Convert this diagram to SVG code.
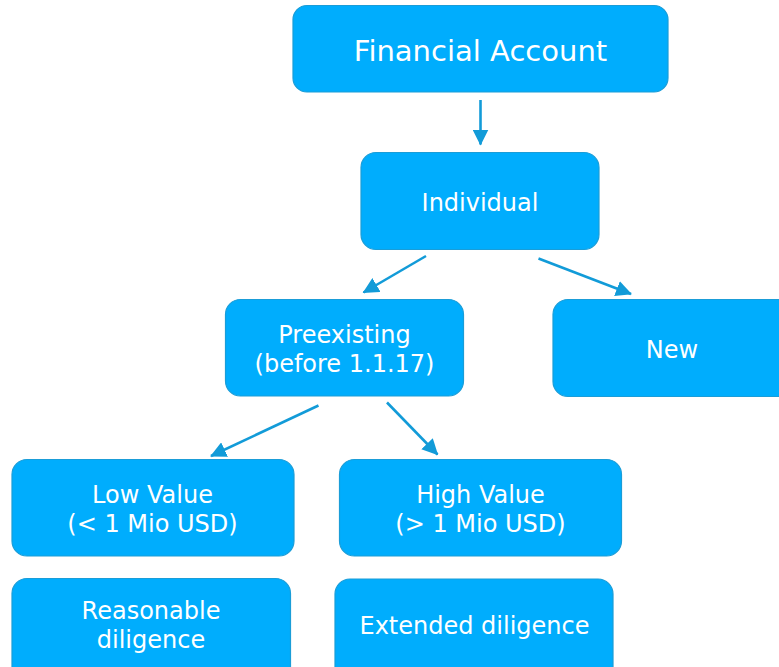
<svg xmlns="http://www.w3.org/2000/svg" width="779" height="667" viewBox="0 0 779 667">
  <defs>
    <style>
      .box { fill: #00adfd; stroke: #1a9dd8; stroke-width: 1.2; }
      .lbl { fill: #ffffff; font-family: "DejaVu Sans", Verdana, sans-serif; font-size: 24px; text-anchor: middle; }
      .big { font-size: 29px; }
      .edge { stroke: #129bd8; stroke-width: 2.6; fill: none; marker-end: url(#head); }
    </style>
    <marker id="head" markerUnits="userSpaceOnUse" markerWidth="16" markerHeight="16" viewBox="0 0 16 16" refX="15" refY="8" orient="auto">
      <path d="M0,0 L16,8 L0,16 Z" fill="#129bd8"/>
    </marker>
  </defs>
  <rect width="779" height="667" fill="#ffffff"/>

  <g id="connectors">
    <line class="edge" x1="480.5" y1="100" x2="480.5" y2="144.5"/>
    <line class="edge" x1="426" y1="256" x2="363.5" y2="292.5"/>
    <line class="edge" x1="538.5" y1="258.5" x2="631" y2="294"/>
    <line class="edge" x1="318.5" y1="405.5" x2="211" y2="456"/>
    <line class="edge" x1="387" y1="402.5" x2="437.5" y2="454.5"/>
  </g>

  <g id="financial-account">
    <rect class="box" x="293" y="5.5" width="375" height="86.5" rx="14"/>
    <text class="lbl big" x="480.5" y="60.5">Financial Account</text>
  </g>

  <g id="individual">
    <rect class="box" x="361" y="152.5" width="238" height="97" rx="15"/>
    <text class="lbl" x="480" y="211">Individual</text>
  </g>

  <g id="preexisting">
    <rect class="box" x="225.5" y="299.5" width="238" height="96.5" rx="15"/>
    <text class="lbl" x="344.5" y="343">Preexisting</text>
    <text class="lbl" x="344.5" y="372">(before 1.1.17)</text>
  </g>

  <g id="new">
    <rect class="box" x="553" y="299.5" width="240" height="97" rx="15"/>
    <text class="lbl" x="672" y="358">New</text>
  </g>

  <g id="low-value">
    <rect class="box" x="12" y="459.5" width="282" height="96.5" rx="15"/>
    <text class="lbl" x="152.5" y="503">Low Value</text>
    <text class="lbl" x="152.5" y="532">(&lt; 1 Mio USD)</text>
  </g>

  <g id="high-value">
    <rect class="box" x="339.5" y="459.5" width="282" height="96.5" rx="15"/>
    <text class="lbl" x="480.5" y="503">High Value</text>
    <text class="lbl" x="480.5" y="532">(&gt; 1 Mio USD)</text>
  </g>

  <g id="reasonable-diligence">
    <rect class="box" x="12" y="578.5" width="278.5" height="110" rx="15"/>
    <text class="lbl" x="151" y="619">Reasonable</text>
    <text class="lbl" x="151" y="648">diligence</text>
  </g>

  <g id="extended-diligence">
    <rect class="box" x="335" y="579" width="278" height="110" rx="15"/>
    <text class="lbl" x="474.5" y="634">Extended diligence</text>
  </g>
</svg>
